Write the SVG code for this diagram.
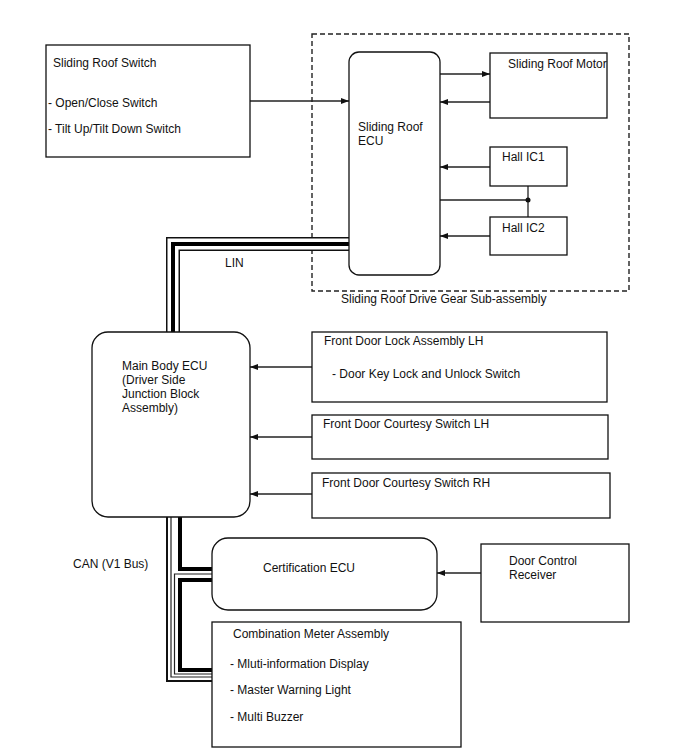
<svg xmlns="http://www.w3.org/2000/svg" width="688" height="755" viewBox="0 0 688 755">
<style>
text{font-family:"Liberation Sans",Arial,sans-serif;font-size:12px;fill:#111}
.box{fill:#fff;stroke:#111;stroke-width:1.3}
.ln{fill:none;stroke:#222;stroke-width:1.3}
.arr{fill:none;stroke:#222;stroke-width:1.3;marker-end:url(#ah)}
.dash{fill:none;stroke:#222;stroke-width:1.4;stroke-dasharray:5 3}
.bo{fill:none;stroke:#111;stroke-width:14;stroke-linejoin:miter}
.bw{fill:none;stroke:#fff;stroke-width:11;stroke-linejoin:miter}
.bt{fill:none;stroke:#000;stroke-width:4;stroke-linejoin:miter}
.th{fill:none;stroke:#000;stroke-width:4}
.tn{fill:none;stroke:#222;stroke-width:1.2}
</style>
<defs>
<marker id="ah" markerUnits="userSpaceOnUse" markerWidth="9" markerHeight="7" refX="8" refY="3" orient="auto">
<path d="M0,0 L8,3 L0,6 z" fill="#111"/>
</marker>
</defs>
<g id="subassembly">
<rect class="dash" x="312" y="34" width="317" height="257"/>
<text x="341" y="303">Sliding Roof Drive Gear Sub-assembly</text>
</g>
<g id="connectors">
<path class="bo" d="M173,332 V244 H349"/>
<path class="bw" d="M173,332 V244 H349"/>
<path class="bt" d="M173,332 V244 H349"/>
<path d="M167,517 V681 H212" fill="none" stroke="#111" stroke-width="2"/>
<path class="tn" d="M171,517 V677 H212"/>
<path class="tn" d="M212,574 H174.5 V674 H212"/>
<path class="th" d="M180,517 V569 H212"/>
<path class="th" d="M212,580 H180 V670 H212"/>
<path class="arr" d="M250,101 H349"/>
<path class="arr" d="M440,74 H490"/>
<path class="arr" d="M490,102 H440"/>
<path class="arr" d="M490,167 H440"/>
<path class="ln" d="M440,200 H528"/>
<path class="ln" d="M528,186 V217"/>
<circle cx="528" cy="200" r="2.5" fill="#111"/>
<path class="arr" d="M490,236 H440"/>
<path class="arr" d="M312,367 H250"/>
<path class="arr" d="M312,437 H250"/>
<path class="arr" d="M312,494 H250"/>
<path class="arr" d="M481,573 H437"/>
<text x="225" y="267">LIN</text>
<text x="73" y="568">CAN (V1 Bus)</text>
</g>
<g id="sliding-roof-switch">
<rect class="box" x="46" y="45" width="204" height="112"/>
<text x="53" y="67">Sliding Roof Switch</text>
<text x="48" y="107">- Open/Close Switch</text>
<text x="48" y="133">- Tilt Up/Tilt Down Switch</text>
</g>
<g id="sliding-roof-ecu">
<rect class="box" x="349" y="52" width="91" height="223" rx="10"/>
<text x="358" y="131">Sliding Roof</text>
<text x="358" y="145">ECU</text>
</g>
<g id="sliding-roof-motor">
<rect class="box" x="490" y="53" width="117" height="65"/>
<text x="508" y="68">Sliding Roof Motor</text>
</g>
<g id="hall-ic1">
<rect class="box" x="490" y="147" width="77" height="39"/>
<text x="502" y="161">Hall IC1</text>
</g>
<g id="hall-ic2">
<rect class="box" x="490" y="217" width="77" height="38"/>
<text x="502" y="232">Hall IC2</text>
</g>
<g id="main-body-ecu">
<rect class="box" x="92" y="332" width="158" height="185" rx="16"/>
<text x="122" y="370">Main Body ECU</text>
<text x="122" y="384">(Driver Side</text>
<text x="122" y="398">Junction Block</text>
<text x="122" y="412">Assembly)</text>
</g>
<g id="front-door-lock-lh">
<rect class="box" x="312" y="332" width="295" height="70"/>
<text x="324" y="345">Front Door Lock Assembly LH</text>
<text x="332" y="378">- Door Key Lock and Unlock Switch</text>
</g>
<g id="courtesy-lh">
<rect class="box" x="312" y="415" width="296" height="44"/>
<text x="323" y="428">Front Door Courtesy Switch LH</text>
</g>
<g id="courtesy-rh">
<rect class="box" x="312" y="473" width="298" height="45"/>
<text x="322" y="487">Front Door Courtesy Switch RH</text>
</g>
<g id="certification-ecu">
<rect class="box" x="212" y="538" width="225" height="72" rx="16"/>
<text x="263" y="572">Certification ECU</text>
</g>
<g id="door-control-receiver">
<rect class="box" x="481" y="544" width="148" height="78"/>
<text x="509" y="565">Door Control</text>
<text x="509" y="579">Receiver</text>
</g>
<g id="combination-meter">
<rect class="box" x="212" y="622" width="249" height="125"/>
<text x="233" y="638">Combination Meter Assembly</text>
<text x="230" y="668">- Mluti-information Display</text>
<text x="230" y="694">- Master Warning Light</text>
<text x="230" y="721">- Multi Buzzer</text>
</g>
</svg>
